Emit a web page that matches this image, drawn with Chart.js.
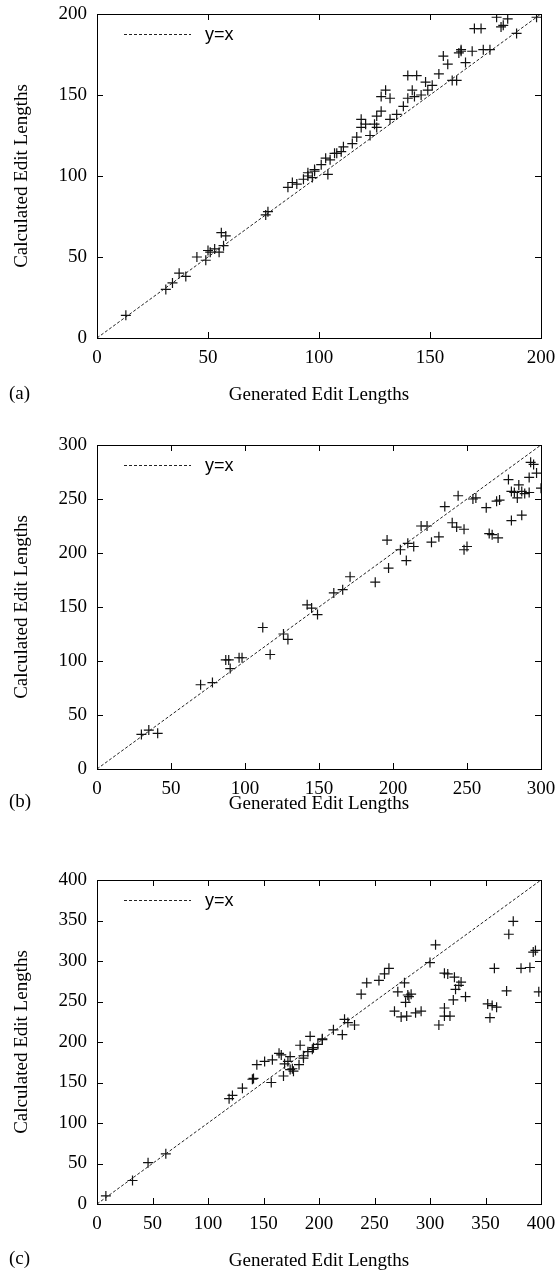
<!DOCTYPE html>
<html>
<head>
<meta charset="utf-8">
<script src="https://cdn.jsdelivr.net/npm/chart.js@4"></script>
<style>
  body { margin: 0; background: #fff; width: 560px; height: 1273px; overflow: hidden; position: relative; }
  .panel { position: absolute; left: 0; width: 560px; height: 410px; }
</style>
</head>
<body>
<div class="panel" style="top:0px"><canvas id="chartA" width="560" height="410"></canvas></div>
<div class="panel" style="top:431px"><canvas id="chartB" width="560" height="410"></canvas></div>
<div class="panel" style="top:866px"><canvas id="chartC" width="560" height="410"></canvas></div>
<script>
// (a) generated vs calculated edit lengths
const genA  = [13, 31, 34, 37, 40, 45, 49, 50, 51, 53, 55, 57, 56, 58, 76, 77, 86, 88, 90, 93, 95, 97, 98,
  95, 98, 101, 103, 105, 104, 107, 108, 110, 111, 115, 117, 119, 119, 121, 123, 125, 126, 126, 128, 128, 130,
  132, 132, 135, 138, 140, 142, 140, 144, 143, 146, 148, 149, 151, 154, 156, 158, 160, 162, 163, 164, 164,
  166, 169, 174, 177, 170, 173, 180, 182, 183, 185, 189, 198];
const calcA = [14, 30, 34, 40, 38, 50, 48, 54, 53, 55, 53, 57, 65, 63, 76, 78, 93, 96, 95, 98, 100, 99, 103,
  102, 104, 107, 111, 110, 101, 114, 114, 115, 118, 120, 124, 135, 130, 132, 125, 132, 130, 137, 140, 149, 153,
  148, 135, 138, 143, 148, 153, 162, 162, 149, 150, 158, 153, 156, 163, 174, 169, 159, 159, 176, 177, 178,
  170, 177, 178, 178, 191, 191, 198, 192, 193, 197, 188, 198];

// (b)
const genB  = [30, 35, 41, 70, 78, 87, 89, 90, 96, 98, 112, 117, 126, 129, 142, 145, 149, 160, 166, 171,
  188, 197, 196, 205, 209, 210, 214, 219, 223, 226, 231, 235, 240, 243, 244, 248, 248, 250, 254, 256, 263,
  265, 267, 271, 270, 272, 278, 280, 280, 282, 284, 285, 287, 287, 289, 292, 292, 293, 295, 297, 300];
const calcB = [32, 36, 33, 78, 80, 101, 101, 93, 103, 103, 131, 106, 125, 120, 152, 149, 143, 163, 166, 178,
  173, 186, 212, 203, 193, 209, 206, 225, 225, 210, 215, 243, 228, 224, 253, 222, 203, 206, 250, 251, 242,
  218, 217, 214, 248, 249, 268, 230, 257, 256, 251, 263, 257, 235, 255, 256, 270, 284, 282, 274, 260];

// (c)
const genC  = [8, 32, 46, 62, 119, 122, 131, 140, 141, 144, 151, 157, 158, 164, 166, 168, 169, 172, 174, 174,
  177, 176, 182, 183, 186, 190, 194, 186, 199, 203, 192, 195, 203, 213, 221, 223, 226, 232, 238, 243, 254,
  259, 263, 268, 274, 279, 287, 292, 271, 277, 280, 281, 283, 278, 300, 305, 308, 313, 313, 313, 316, 318,
  321, 322, 323, 326, 328, 332, 352, 354, 356, 360, 358, 369, 371, 375, 382, 390, 393, 395, 398];
const calcC = [10, 29, 51, 62, 130, 134, 143, 154, 155, 172, 176, 150, 178, 186, 184, 158, 173, 176, 182, 166,
  164, 167, 172, 196, 183, 188, 191, 180, 197, 203, 207, 193, 204, 215, 209, 228, 224, 221, 259, 273, 276,
  284, 291, 238, 231, 232, 236, 238, 262, 273, 258, 256, 259, 249, 298, 320, 221, 242, 232, 285, 284, 232,
  252, 280, 265, 270, 274, 256, 247, 230, 245, 243, 291, 263, 333, 349, 291, 292, 311, 313, 262];

const ticksA = [0, 50, 100, 150, 200];
const ticksB = [0, 50, 100, 150, 200, 250, 300];
const ticksC = [0, 50, 100, 150, 200, 250, 300, 350, 400];

const serif = "'Liberation Serif', 'Times New Roman', serif";
const sans = "'Liberation Sans', Arial, sans-serif";

function toPoints(xs, ys) {
  return xs.map((x, i) => ({ x: x, y: ys[i] }));
}

// box, inward ticks on all four sides, key and panel letter
const framePlugin = {
  id: "frame",
  afterDatasetsDraw(chart, args, opts) {
    const ctx = chart.ctx;
    const a = chart.chartArea;
    const xs = chart.scales.x, ys = chart.scales.y;
    ctx.save();
    ctx.strokeStyle = "#000";
    ctx.lineWidth = 1;
    ctx.setLineDash([]);
    ctx.beginPath();
    opts.ticks.forEach((v) => {
      const px = Math.round(xs.getPixelForValue(v)) + 0.5;
      ctx.moveTo(px, a.bottom); ctx.lineTo(px, a.bottom - 6);
      ctx.moveTo(px, a.top); ctx.lineTo(px, a.top + 6);
      const py = Math.round(ys.getPixelForValue(v)) + 0.5;
      ctx.moveTo(a.left, py); ctx.lineTo(a.left + 6, py);
      ctx.moveTo(a.right, py); ctx.lineTo(a.right - 6, py);
    });
    ctx.stroke();
    ctx.strokeRect(Math.round(a.left) + 0.5, Math.round(a.top) + 0.5,
      Math.round(a.right - a.left), Math.round(a.bottom - a.top));

    // key
    ctx.setLineDash([3, 2]);
    ctx.strokeStyle = "#222";
    ctx.beginPath();
    ctx.moveTo(a.left + 27, a.top + 20.5);
    ctx.lineTo(a.left + 94, a.top + 20.5);
    ctx.stroke();
    ctx.setLineDash([]);
    ctx.fillStyle = "#000";
    ctx.font = "18px " + sans;
    ctx.textBaseline = "middle";
    ctx.textAlign = "left";
    ctx.fillText("y=x", a.left + 108, a.top + 21);

    // panel letter
    ctx.font = "19px " + serif;
    ctx.fillText(opts.letter, 9, opts.letterY);
    ctx.restore();
  },
};

function createChart(canvasId, gen, calc, ticks, letter, titlePad, letterY) {
  const maxV = ticks[ticks.length - 1];
  new Chart(document.getElementById(canvasId), {
    type: "scatter",
    data: {
      datasets: [
        {
          label: "y=x",
          type: "line",
          data: [{ x: 0, y: 0 }, { x: maxV, y: maxV }],
          borderColor: "#222",
          borderWidth: 1,
          borderDash: [3, 2],
          pointRadius: 0,
          fill: false,
        },
        {
          label: "edits",
          data: toPoints(gen, calc),
          pointStyle: "cross",
          pointRadius: 5,
          pointHoverRadius: 5,
          borderColor: "#111",
          backgroundColor: "#111",
          borderWidth: 1.2,
        },
      ],
    },
    options: {
      responsive: false,
      animation: false,
      events: [],
      layout: { padding: { top: 14, right: 19, left: 0, bottom: 0 } },
      plugins: {
        legend: { display: false },
        tooltip: { enabled: false },
        frame: { ticks: ticks, letter: letter, letterY: letterY },
      },
      scales: {
        x: {
          type: "linear",
          min: 0,
          max: maxV,
          afterBuildTicks: (s) => { s.ticks = ticks.map((v) => ({ value: v })); },
          afterFit: (s) => { s.height = 72; s.paddingLeft = 0; s.paddingRight = 0; },
          ticks: { color: "#000", font: { family: serif, size: 19 }, padding: 9, maxRotation: 0 },
          grid: { display: false, drawTicks: false },
          border: { display: false },
          title: {
            display: true,
            text: "Generated Edit Lengths",
            color: "#000",
            font: { family: serif, size: 19 },
            padding: { top: 0, bottom: titlePad },
          },
        },
        y: {
          type: "linear",
          min: 0,
          max: maxV,
          afterBuildTicks: (s) => { s.ticks = ticks.map((v) => ({ value: v })); },
          afterFit: (s) => { s.width = 97; s.paddingTop = 0; s.paddingBottom = 0; },
          ticks: { color: "#000", font: { family: serif, size: 19 }, padding: 10 },
          grid: { display: false, drawTicks: false },
          border: { display: false },
          title: {
            display: true,
            text: "Calculated Edit Lengths",
            color: "#000",
            font: { family: serif, size: 19 },
            padding: { top: 11, bottom: 0 },
          },
        },
      },
    },
    plugins: [framePlugin],
  });
}

createChart("chartA", genA, calcA, ticksA, "(a)", 4, 394);
createChart("chartB", genB, calcB, ticksB, "(b)", 26, 371);
createChart("chartC", genC, calcC, ticksC, "(c)", 4, 393);
</script>
</body>
</html>
